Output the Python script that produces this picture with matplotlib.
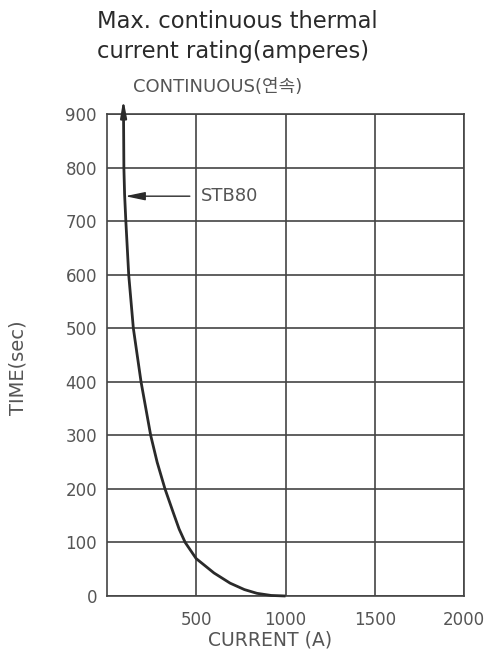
import numpy as np
import matplotlib.pyplot as plt

plt.rcParams['font.family'] = ['DejaVu Sans', 'Noto Sans CJK KR']

# curve (time in sec, current in A)
time_s = [900, 800, 750, 700, 600, 500, 400, 300, 250, 200, 155, 125, 100, 70, 43, 24, 12, 5, 1, 0]
current_a = [94, 96, 100, 107, 123, 149, 192, 246, 282, 326, 373, 405, 439, 500, 600, 690, 770, 840, 920, 1000]

xticks = [500, 1000, 1500, 2000]
yticks = list(range(0, 1000, 100))

txt = '#555555'
grid = '#444444'

fig = plt.figure(figsize=(4.84, 6.52), dpi=100)
ax = fig.add_axes([0.2205, 0.0859, 0.7388, 0.7388])

ax.plot(current_a, time_s, color='#2a2a2a', lw=2.0, solid_capstyle='butt', clip_on=False, zorder=3)

# continuous arrow at the top
ax.annotate('', xy=(93, 928), xytext=(94, 900),
            arrowprops=dict(arrowstyle='-|>,head_length=1.0,head_width=0.18', color='#2a2a2a',
                            lw=1.6, mutation_scale=10, shrinkA=0, shrinkB=0),
            annotation_clip=False)

# STB80 pointer
ax.annotate('STB80', xy=(103, 747), xytext=(527, 747), va='center', ha='left',
            fontsize=13, color=txt,
            arrowprops=dict(arrowstyle='-|>,head_length=1.2,head_width=0.25', color='#2a2a2a',
                            lw=1.0, mutation_scale=10, shrinkA=6, shrinkB=0))

ax.set_xlim(0, 2000)
ax.set_ylim(0, 900)
ax.set_xticks(xticks)
ax.set_yticks(yticks)
ax.grid(True, color=grid, lw=1.2)
for s in ax.spines.values():
    s.set_color(grid)
    s.set_linewidth(1.2)
ax.tick_params(length=0, labelsize=12, labelcolor=txt)
ax.tick_params(axis='x', pad=11)
ax.tick_params(axis='y', pad=7)

ax.set_xlabel('CURRENT (A)', fontsize=13.5, color=txt)
ax.set_ylabel('TIME(sec)', fontsize=14, color=txt)
ax.xaxis.set_label_coords(0.457, -0.072)
ax.yaxis.set_label_coords(-0.222, 0.473)

fig.text(97 / 484, 1 - 28 / 652, 'Max. continuous thermal', fontsize=16.3,
         color='#2a2a2a', ha='left', va='baseline')
fig.text(97 / 484, 1 - 58 / 652, 'current rating(amperes)', fontsize=16.3,
         color='#2a2a2a', ha='left', va='baseline')
fig.text(133 / 484, 1 - 92 / 652, 'CONTINUOUS(연속)', fontsize=13, color=txt,
         ha='left', va='baseline')

fig.savefig('out.png', dpi=100)
